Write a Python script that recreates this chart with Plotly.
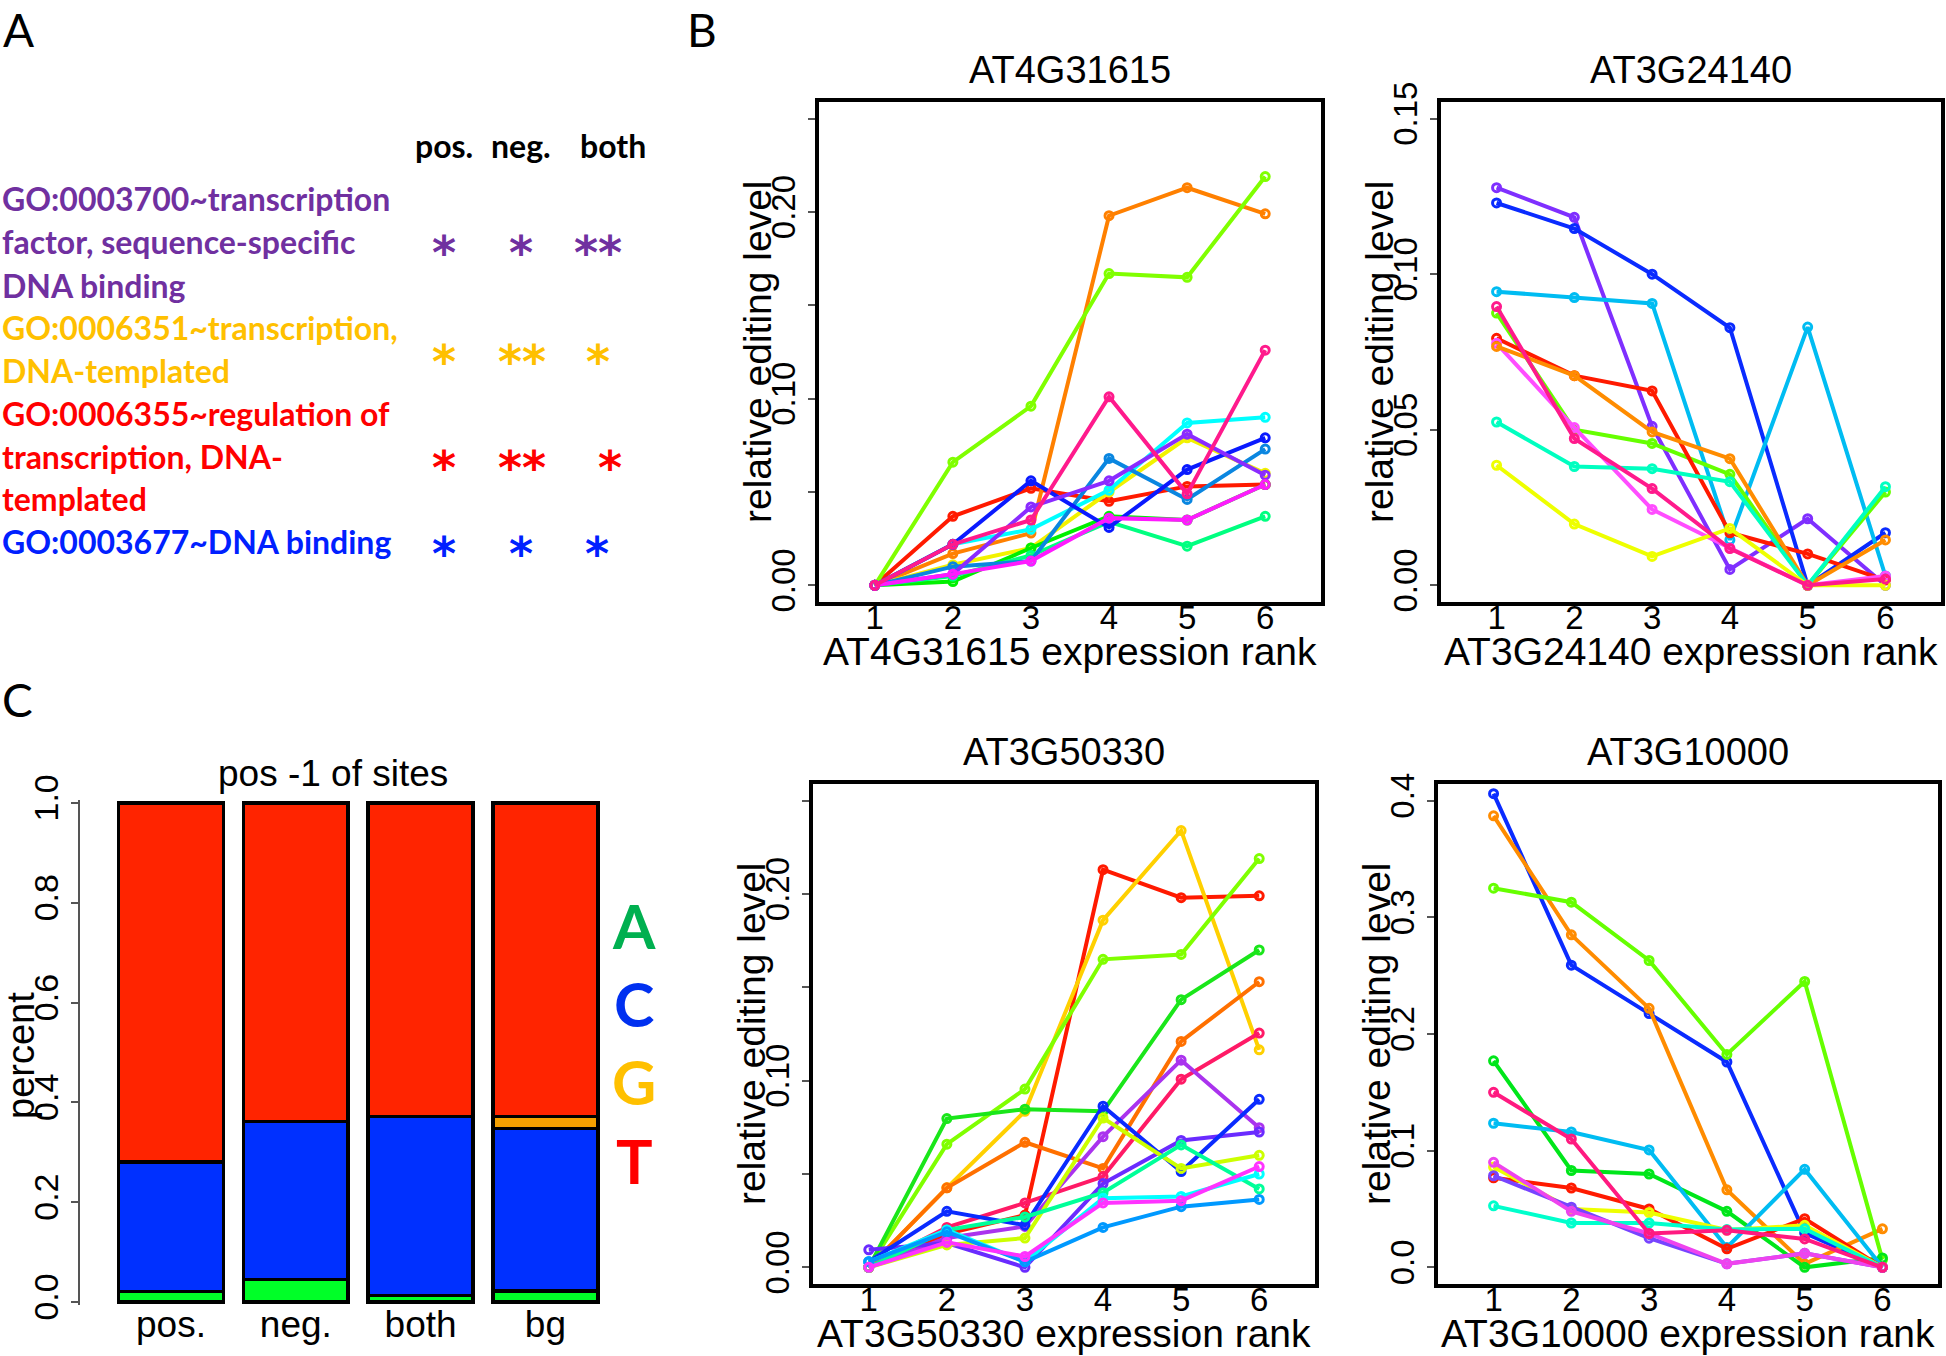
import plotly.graph_objects as go

W, H = 1946, 1356

# ---------------- data ----------------
ranks = [1, 2, 3, 4, 5, 6]
rank_labels = ["1", "2", "3", "4", "5", "6"]

# Panel B: relative editing level per expression rank (one list per editing site)
AT4G31615_levels = [
    [0, 0.037, 0.052, 0.045, 0.053, 0.054],
    [0, 0.017, 0.028, 0.198, 0.213, 0.199],
    [0, 0.011, 0.020, 0.050, 0.079, 0.060],
    [0, 0.066, 0.096, 0.167, 0.165, 0.219],
    [0, 0.002, 0.020, 0.037, 0.035, 0.054],
    [0, 0.005, 0.016, 0.034, 0.021, 0.037],
    [0, 0.022, 0.030, 0.051, 0.087, 0.090],
    [0, 0.010, 0.013, 0.068, 0.046, 0.073],
    [0, 0.022, 0.056, 0.031, 0.062, 0.079],
    [0, 0.006, 0.042, 0.056, 0.081, 0.059],
    [0, 0.006, 0.013, 0.036, 0.035, 0.054],
    [0, 0.022, 0.035, 0.101, 0.049, 0.126],
]
AT4G31615_colors = ["#FF1A00", "#FF8000", "#F2F200", "#80FF00", "#00F000", "#00FF80",
                    "#00FFFF", "#0A86E0", "#0A1AFF", "#8A2BFF", "#FF1AFF", "#FF1A8C"]

AT3G24140_levels = [
    [0.1278, 0.1183, 0.0511, 0.0051, 0.0214, 0.0],
    [0.1229, 0.1147, 0.1000, 0.0828, 0.0, 0.0169],
    [0.0944, 0.0925, 0.0906, 0.0146, 0.0830, 0.003],
    [0.0875, 0.0500, 0.0456, 0.0357, 0.0, 0.030],
    [0.0794, 0.0674, 0.0625, 0.0169, 0.0101, 0.0017],
    [0.0778, 0.0507, 0.0244, 0.0120, 0.0, 0.003],
    [0.0768, 0.0674, 0.0493, 0.0407, 0.0, 0.0146],
    [0.0525, 0.0382, 0.0375, 0.0333, 0.0, 0.0317],
    [0.0386, 0.0197, 0.0093, 0.0183, 0.0, 0.0],
    [0.0896, 0.0472, 0.0311, 0.0118, 0.0, 0.002],
]
AT3G24140_colors = ["#7F2FFF", "#0A2BFF", "#00BCF2", "#66FF00", "#FF1A00", "#FF4DFF",
                    "#FF8C00", "#00FFC0", "#EEFF00", "#FF1A8C"]

AT3G50330_levels = [
    [0, 0.018, 0.028, 0.213, 0.198, 0.199],
    [0, 0.0426, 0.0836, 0.186, 0.234, 0.1165],
    [0, 0.066, 0.0955, 0.165, 0.1676, 0.219],
    [0, 0.0797, 0.0847, 0.0836, 0.1434, 0.170],
    [0, 0.0426, 0.067, 0.053, 0.121, 0.153],
    [0, 0.0214, 0.0345, 0.0486, 0.1008, 0.1255],
    [0, 0.0157, 0.0219, 0.070, 0.111, 0.0748],
    [0.0094, 0.013, 0.0, 0.0449, 0.068, 0.0725],
    [0.003, 0.030, 0.0226, 0.0863, 0.0513, 0.090],
    [0, 0.012, 0.0157, 0.080, 0.053, 0.060],
    [0, 0.020, 0.027, 0.040, 0.0656, 0.042],
    [0.003, 0.020, 0.003, 0.037, 0.038, 0.050],
    [0.003, 0.019, 0.003, 0.0214, 0.0325, 0.0364],
    [0, 0.0134, 0.0058, 0.0345, 0.0357, 0.054],
]
AT3G50330_colors = ["#FF1A00", "#FFD000", "#80FF00", "#1AE61A", "#FF7000", "#FF1A66",
                    "#AA33EE", "#6A2BFF", "#0A2BFF", "#CCFF00", "#00FF99", "#00FFFF",
                    "#0099FF", "#FF33FF"]

AT3G10000_levels = [
    [0.406, 0.259, 0.2175, 0.176, 0.0295, 0.0],
    [0.387, 0.285, 0.222, 0.0664, 0.003, 0.033],
    [0.325, 0.313, 0.263, 0.1825, 0.245, 0.0066],
    [0.177, 0.083, 0.080, 0.048, 0.0, 0.008],
    [0.1235, 0.116, 0.1006, 0.017, 0.084, 0.0],
    [0.0767, 0.068, 0.050, 0.0159, 0.0417, 0.0],
    [0.086, 0.050, 0.047, 0.032, 0.036, 0.0],
    [0.0527, 0.038, 0.038, 0.0324, 0.033, 0.0],
    [0.0785, 0.0516, 0.025, 0.003, 0.012, 0.0],
    [0.090, 0.048, 0.029, 0.003, 0.012, 0.0],
    [0.150, 0.110, 0.029, 0.0317, 0.0243, 0.0],
]
AT3G10000_colors = ["#0A2BFF", "#FF8C00", "#66FF00", "#00E61A", "#00BCF2", "#FF1A00",
                    "#EEFF00", "#00FFCC", "#7744FF", "#EE44EE", "#FF1A80"]

B_genes = ["AT4G31615", "AT3G24140", "AT3G50330", "AT3G10000"]
B_ytickvals = [[0, 0.05, 0.10, 0.15, 0.20, 0.25], [0, 0.05, 0.10, 0.15],
               [0, 0.05, 0.10, 0.15, 0.20, 0.25], [0, 0.1, 0.2, 0.3, 0.4]]
B_yticktext = [["0.00", "", "0.10", "", "0.20", ""], ["0.00", "0.05", "0.10", "0.15"],
               ["0.00", "", "0.10", "", "0.20", ""], ["0.0", "0.1", "0.2", "0.3", "0.4"]]
B_ylims = [(0, 0.25), (0, 0.15), (0, 0.25), (0, 0.4)]

# Panel C: base composition at position -1 of sites
C_groups = ["pos.", "neg.", "both", "bg"]
C_A = [0.021, 0.045, 0.013, 0.022]
C_C = [0.260, 0.317, 0.359, 0.326]
C_G = [0.0, 0.0, 0.0, 0.024]
C_T = [0.719, 0.638, 0.628, 0.628]
C_ticks = [0, 0.2, 0.4, 0.6, 0.8, 1.0]
C_ticktext = ["0.0", "0.2", "0.4", "0.6", "0.8", "1.0"]

# Panel A: GO terms and significance
GO_columns = ["pos.", "neg.", "both"]
GO_terms = [
    ["GO:0003700~transcription", "factor, sequence-specific", "DNA binding"],
    ["GO:0006351~transcription,", "DNA-templated"],
    ["GO:0006355~regulation of", "transcription, DNA-", "templated"],
    ["GO:0003677~DNA binding"],
]
GO_stars = [["*", "*", "**"], ["*", "**", "*"], ["*", "**", "*"], ["*", "*", "*"]]

# ---------------- styling / layout helpers ----------------
FONT = "Liberation Sans"
CAL = "Lato"
GO_colors = ["#7030A0", "#FFC000", "#FF0000", "#0020FF"]


def fx(px):
    return px / W


def fy(py):
    return 1 - py / H


def frame(L, R, T, B, xu, yu, lw=4):
    kx = (R - L) / (xu[1] - xu[0])
    ky = (B - T) / (yu[1] - yu[0])
    h = lw / 2
    return (dict(domain=[fx(L + h), fx(R - h)], range=[xu[0] + h / kx, xu[1] - h / kx]),
            dict(domain=[fy(B - h), fy(T + h)], range=[yu[0] + h / ky, yu[1] - h / ky]))


fig = go.Figure()
layout = dict(template="none", width=W, height=H, margin=dict(l=0, r=0, t=0, b=0, pad=0),
              autosize=False, paper_bgcolor="white", plot_bgcolor="white", showlegend=False,
              barmode="stack", bargap=0.16, font=dict(family=FONT, color="black"))
annotations = []

boxes = [(817, 1323, 100, 604), (1439, 1943, 100, 604),
         (811, 1317, 782, 1286), (1436, 1940, 782, 1286)]
levels = [AT4G31615_levels, AT3G24140_levels, AT3G50330_levels, AT3G10000_levels]
colors = [AT4G31615_colors, AT3G24140_colors, AT3G50330_colors, AT3G10000_colors]

for i in range(4):
    L, R, T, B = boxes[i]
    lo, hi = B_ylims[i]
    ext = 0.04 * (hi - lo)
    xa, ya = frame(L, R, T, B, (0.26, 6.74), (lo - ext, hi + ext))
    n = i + 1
    xa.update(anchor=f"y{n}", showline=True, mirror=True, linewidth=4, linecolor="black",
              ticks="", ticklen=0, tickvals=ranks, ticktext=rank_labels, tickfont=dict(size=33),
              showgrid=False, zeroline=False, automargin=False, ticklabelstandoff=-17)
    ya.update(anchor=f"x{n}", showline=True, mirror=True, linewidth=4, linecolor="black",
              ticks="outside", ticklen=7, tickwidth=1.5, tickcolor="#555",
              tickvals=B_ytickvals[i], ticktext=B_yticktext[i], tickangle=-90,
              tickfont=dict(size=33), showgrid=False, zeroline=False, automargin=False)
    layout[f"xaxis{n}"] = xa
    layout[f"yaxis{n}"] = ya
    for vals, c in zip(levels[i], colors[i]):
        fig.add_trace(go.Scatter(x=ranks, y=vals, mode="lines+markers",
                                 line=dict(color=c, width=4),
                                 marker=dict(symbol="circle-open", size=8, color=c,
                                             line=dict(width=3, color=c)),
                                 xaxis=f"x{n}", yaxis=f"y{n}", hoverinfo="skip"))
    cx = (L + R) / 2
    annotations.append(dict(text=B_genes[i], x=fx(cx), y=fy(T - 30), xref="paper", yref="paper",
                            xanchor="center", yanchor="middle", showarrow=False,
                            font=dict(size=38, family=FONT)))
    annotations.append(dict(text=f"{B_genes[i]} expression rank", x=fx(cx), y=fy(B + 47),
                            xref="paper", yref="paper", xanchor="center", yanchor="middle",
                            showarrow=False, font=dict(size=39, family=FONT)))
    annotations.append(dict(text="relative editing level", x=fx(L - 60), y=fy((T + B) / 2),
                            xref="paper", yref="paper", xanchor="center", yanchor="middle",
                            textangle=-90, showarrow=False, font=dict(size=39, family=FONT)))

# Panel C bars
bar_x0, bar_x1 = 80, 600
c_first, c_step = 171, 124.8
layout["xaxis5"] = dict(domain=[fx(bar_x0), fx(bar_x1)],
                        range=[-(c_first - bar_x0) / c_step, 3 + (bar_x1 - (c_first + 3 * c_step)) / c_step],
                        anchor="y5", showline=False, ticks="", ticklen=0, showgrid=False, zeroline=False,
                        tickfont=dict(size=37), type="category", automargin=False,
                        ticklabelstandoff=-6)
layout["yaxis5"] = dict(domain=[fy(1305), fy(800)], range=[-0.006, 1.006], anchor="x5",
                        showline=True, linewidth=1.5, linecolor="#555", ticks="outside",
                        ticklen=7, tickwidth=1.5, tickcolor="#555", tickvals=C_ticks,
                        ticktext=C_ticktext, tickangle=-90, tickfont=dict(size=34),
                        showgrid=False, zeroline=False, automargin=False)
for vals, col in zip([C_A, C_C, C_G, C_T], ["#00FF28", "#0030FF", "#F5A000", "#FF2400"]):
    fig.add_trace(go.Bar(x=C_groups, y=vals, marker=dict(color=col, line=dict(color="black", width=3.5)),
                         xaxis="x5", yaxis="y5", hoverinfo="skip"))

annotations.append(dict(text="pos -1 of sites", x=fx(333), y=fy(773), xref="paper", yref="paper",
                        xanchor="center", yanchor="middle", showarrow=False, font=dict(size=37)))
annotations.append(dict(text="percent", x=fx(21), y=fy(1056), xref="paper", yref="paper",
                        xanchor="center", yanchor="middle", textangle=-90, showarrow=False,
                        font=dict(size=38)))
for letter, col, yy in zip(["A", "C", "G", "T"], ["#00B050", "#0030F0", "#FFC000", "#FF0000"],
                           [925, 1003, 1081, 1160]):
    annotations.append(dict(text=f"<b>{letter}</b>", x=fx(634), y=fy(yy), xref="paper", yref="paper",
                            xanchor="center", yanchor="middle", showarrow=False,
                            font=dict(size=61, family=CAL, color=col)))

# Panel letters
for letter, px, py, anc in [("A", 18, 0, "top"), ("B", 702, 0, "top"), ("C", 17, 699, "middle")]:
    annotations.append(dict(text=letter, x=fx(px), y=fy(py), xref="paper", yref="paper",
                            xanchor="center", yanchor=anc, showarrow=False,
                            font=dict(size=46, family=CAL)))

# Panel A text
for word, hx in zip(GO_columns, [444, 521, 613]):
    annotations.append(dict(text=f"<b>{word}</b>", x=fx(hx), y=fy(145), xref="paper",
                            yref="paper", xanchor="center", yanchor="middle", showarrow=False,
                            font=dict(size=32, family=CAL)))
line_y = [[199, 241, 285], [327, 370], [413, 456, 498], [541]]
star_y = [244, 353, 459, 545]
star_x = [[444, 521, 598], [444, 522, 598], [444, 522, 610], [444, 521, 597]]
for k in range(4):
    for txt, yy in zip(GO_terms[k], line_y[k]):
        annotations.append(dict(text=f"<b>{txt}</b>", x=0, y=fy(yy), xref="paper", yref="paper",
                                xanchor="left", yanchor="middle", showarrow=False,
                                font=dict(size=32, family=CAL, color=GO_colors[k])))
    for s, sx in zip(GO_stars[k], star_x[k]):
        annotations.append(dict(text=f"<b>{s}</b>", x=fx(sx), y=fy(star_y[k] + 9), xref="paper",
                                yref="paper", xanchor="center", yanchor="middle", showarrow=False,
                                font=dict(size=46, family="DejaVu Sans", color=GO_colors[k])))

layout["annotations"] = annotations
fig.update_layout(**layout)

fig.write_html("out.html", config={"displayModeBar": False},
               post_script="document.body.style.margin='0';document.body.style.overflow='hidden';")
